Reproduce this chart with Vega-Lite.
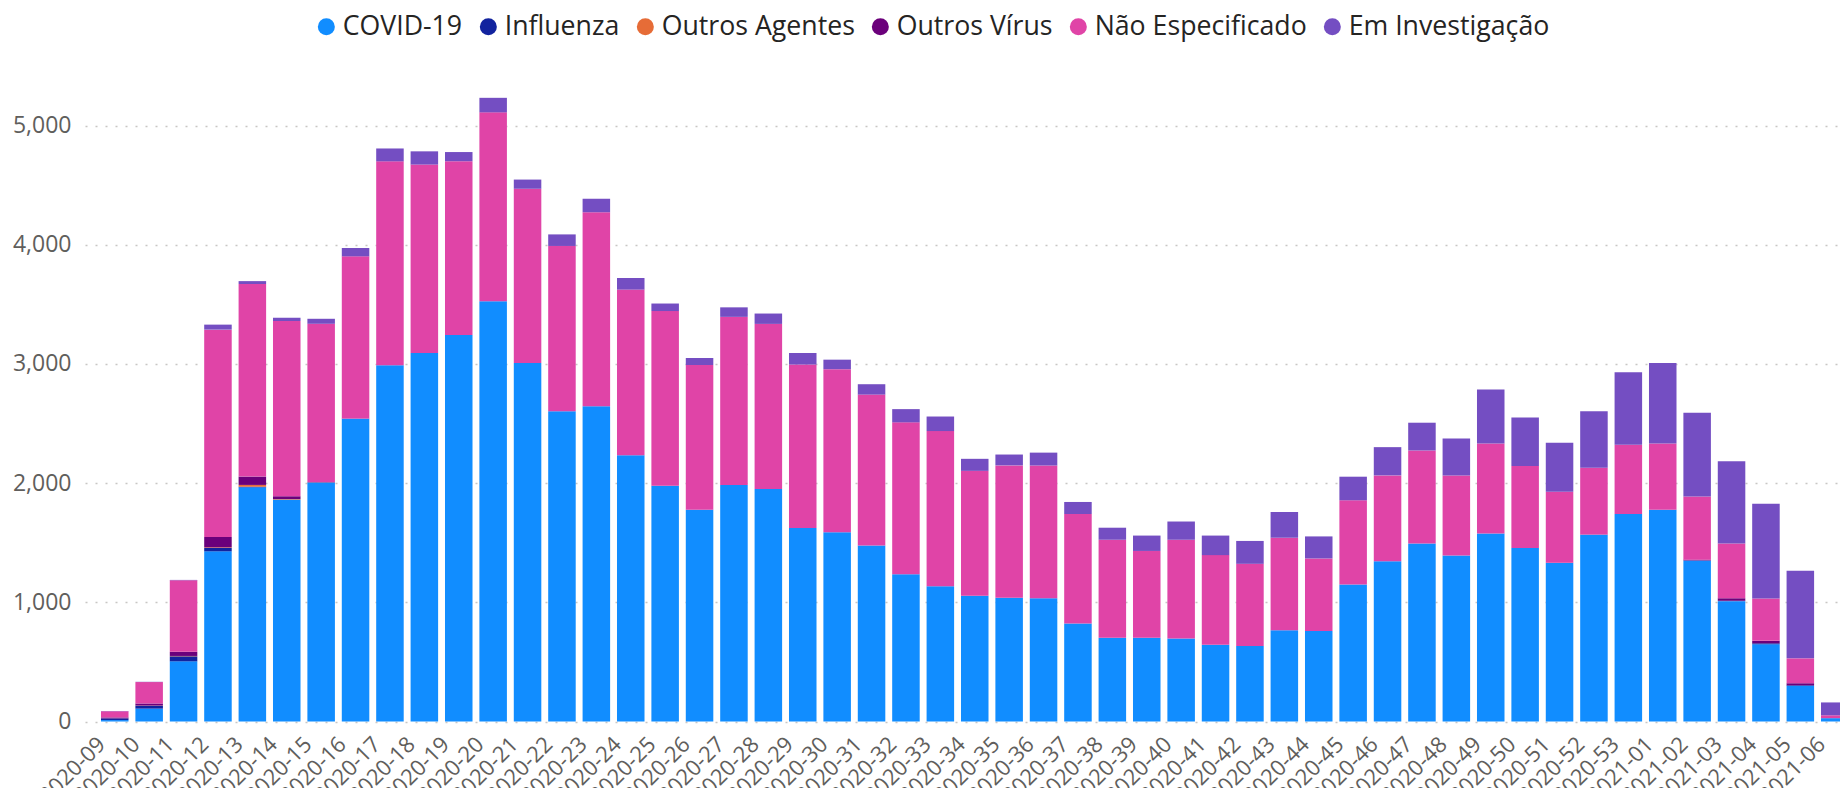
{
  "$schema": "https://vega.github.io/schema/vega-lite/v6.json",
  "autosize": {"type": "none"},
  "padding": {"left": 85, "top": 66, "right": 0, "bottom": 66.5},
  "width": 1779.5,
  "height": 655.5,
  "background": "white",
  "config": {
    "view": {"stroke": null},
    "font": "Segoe UI, Open Sans, sans-serif"
  },
  "datasets": {
    "ordem": [
      {"cat": "COVID-19", "k": 1},
      {"cat": "Influenza", "k": 2},
      {"cat": "Outros Agentes", "k": 3},
      {"cat": "Outros Vírus", "k": 4},
      {"cat": "Não Especificado", "k": 5},
      {"cat": "Em Investigação", "k": 6}
    ]
  },
  "data": {
    "values": [
      {"w": "2020-09", "COVID-19": 12, "Influenza": 14, "Outros Agentes": 0, "Outros Vírus": 8, "Não Especificado": 52, "Em Investigação": 2},
      {"w": "2020-10", "COVID-19": 108, "Influenza": 24, "Outros Agentes": 2, "Outros Vírus": 17, "Não Especificado": 180, "Em Investigação": 2},
      {"w": "2020-11", "COVID-19": 505, "Influenza": 42, "Outros Agentes": 3, "Outros Vírus": 35, "Não Especificado": 600, "Em Investigação": 3},
      {"w": "2020-12", "COVID-19": 1428, "Influenza": 28, "Outros Agentes": 5, "Outros Vírus": 87, "Não Especificado": 1740, "Em Investigação": 42},
      {"w": "2020-13", "COVID-19": 1965, "Influenza": 5, "Outros Agentes": 15, "Outros Vírus": 70, "Não Especificado": 1616, "Em Investigação": 24},
      {"w": "2020-14", "COVID-19": 1860, "Influenza": 3, "Outros Agentes": 3, "Outros Vírus": 24, "Não Especificado": 1470, "Em Investigação": 28},
      {"w": "2020-15", "COVID-19": 2005, "Influenza": 0, "Outros Agentes": 1, "Outros Vírus": 3, "Não Especificado": 1328, "Em Investigação": 42},
      {"w": "2020-16", "COVID-19": 2540, "Influenza": 0, "Outros Agentes": 0, "Outros Vírus": 2, "Não Especificado": 1361, "Em Investigação": 70},
      {"w": "2020-17", "COVID-19": 2990, "Influenza": 0, "Outros Agentes": 0, "Outros Vírus": 0, "Não Especificado": 1710, "Em Investigação": 108},
      {"w": "2020-18", "COVID-19": 3092, "Influenza": 0, "Outros Agentes": 0, "Outros Vírus": 0, "Não Especificado": 1581, "Em Investigação": 111},
      {"w": "2020-19", "COVID-19": 3242, "Influenza": 0, "Outros Agentes": 0, "Outros Vírus": 0, "Não Especificado": 1459, "Em Investigação": 77},
      {"w": "2020-20", "COVID-19": 3527, "Influenza": 0, "Outros Agentes": 0, "Outros Vírus": 0, "Não Especificado": 1584, "Em Investigação": 122},
      {"w": "2020-21", "COVID-19": 3008, "Influenza": 0, "Outros Agentes": 0, "Outros Vírus": 0, "Não Especificado": 1462, "Em Investigação": 77},
      {"w": "2020-22", "COVID-19": 2604, "Influenza": 0, "Outros Agentes": 0, "Outros Vírus": 0, "Não Especificado": 1386, "Em Investigação": 97},
      {"w": "2020-23", "COVID-19": 2646, "Influenza": 0, "Outros Agentes": 0, "Outros Vírus": 0, "Não Especificado": 1626, "Em Investigação": 115},
      {"w": "2020-24", "COVID-19": 2235, "Influenza": 0, "Outros Agentes": 0, "Outros Vírus": 0, "Não Especificado": 1389, "Em Investigação": 97},
      {"w": "2020-25", "COVID-19": 1978, "Influenza": 0, "Outros Agentes": 0, "Outros Vírus": 0, "Não Especificado": 1466, "Em Investigação": 63},
      {"w": "2020-26", "COVID-19": 1776, "Influenza": 0, "Outros Agentes": 0, "Outros Vírus": 0, "Não Especificado": 1215, "Em Investigação": 59},
      {"w": "2020-27", "COVID-19": 1985, "Influenza": 0, "Outros Agentes": 0, "Outros Vírus": 0, "Não Especificado": 1410, "Em Investigação": 80},
      {"w": "2020-28", "COVID-19": 1950, "Influenza": 0, "Outros Agentes": 0, "Outros Vírus": 0, "Não Especificado": 1386, "Em Investigação": 87},
      {"w": "2020-29", "COVID-19": 1623, "Influenza": 0, "Outros Agentes": 0, "Outros Vírus": 0, "Não Especificado": 1372, "Em Investigação": 97},
      {"w": "2020-30", "COVID-19": 1588, "Influenza": 0, "Outros Agentes": 0, "Outros Vírus": 0, "Não Especificado": 1368, "Em Investigação": 80},
      {"w": "2020-31", "COVID-19": 1476, "Influenza": 0, "Outros Agentes": 0, "Outros Vírus": 0, "Não Especificado": 1267, "Em Investigação": 87},
      {"w": "2020-32", "COVID-19": 1236, "Influenza": 0, "Outros Agentes": 0, "Outros Vírus": 0, "Não Especificado": 1274, "Em Investigação": 111},
      {"w": "2020-33", "COVID-19": 1135, "Influenza": 0, "Outros Agentes": 0, "Outros Vírus": 0, "Não Especificado": 1302, "Em Investigação": 122},
      {"w": "2020-34", "COVID-19": 1055, "Influenza": 0, "Outros Agentes": 0, "Outros Vírus": 0, "Não Especificado": 1048, "Em Investigação": 101},
      {"w": "2020-35", "COVID-19": 1038, "Influenza": 0, "Outros Agentes": 0, "Outros Vírus": 0, "Não Especificado": 1111, "Em Investigação": 91},
      {"w": "2020-36", "COVID-19": 1034, "Influenza": 0, "Outros Agentes": 0, "Outros Vírus": 0, "Não Especificado": 1114, "Em Investigação": 108},
      {"w": "2020-37", "COVID-19": 822, "Influenza": 0, "Outros Agentes": 0, "Outros Vírus": 0, "Não Especificado": 919, "Em Investigação": 101},
      {"w": "2020-38", "COVID-19": 703, "Influenza": 0, "Outros Agentes": 0, "Outros Vírus": 0, "Não Especificado": 822, "Em Investigação": 101},
      {"w": "2020-39", "COVID-19": 703, "Influenza": 0, "Outros Agentes": 0, "Outros Vírus": 0, "Não Especificado": 728, "Em Investigação": 129},
      {"w": "2020-40", "COVID-19": 696, "Influenza": 0, "Outros Agentes": 0, "Outros Vírus": 0, "Não Especificado": 829, "Em Investigação": 153},
      {"w": "2020-41", "COVID-19": 644, "Influenza": 0, "Outros Agentes": 0, "Outros Vírus": 0, "Não Especificado": 752, "Em Investigação": 164},
      {"w": "2020-42", "COVID-19": 634, "Influenza": 0, "Outros Agentes": 0, "Outros Vírus": 0, "Não Especificado": 689, "Em Investigação": 192},
      {"w": "2020-43", "COVID-19": 766, "Influenza": 0, "Outros Agentes": 0, "Outros Vírus": 0, "Não Especificado": 776, "Em Investigação": 216},
      {"w": "2020-44", "COVID-19": 759, "Influenza": 0, "Outros Agentes": 0, "Outros Vírus": 0, "Não Especificado": 609, "Em Investigação": 185},
      {"w": "2020-45", "COVID-19": 1149, "Influenza": 0, "Outros Agentes": 0, "Outros Vírus": 0, "Não Especificado": 707, "Em Investigação": 198},
      {"w": "2020-46", "COVID-19": 1344, "Influenza": 0, "Outros Agentes": 0, "Outros Vírus": 0, "Não Especificado": 721, "Em Investigação": 237},
      {"w": "2020-47", "COVID-19": 1494, "Influenza": 0, "Outros Agentes": 0, "Outros Vírus": 0, "Não Especificado": 780, "Em Investigação": 233},
      {"w": "2020-48", "COVID-19": 1393, "Influenza": 0, "Outros Agentes": 0, "Outros Vírus": 0, "Não Especificado": 672, "Em Investigação": 310},
      {"w": "2020-49", "COVID-19": 1577, "Influenza": 0, "Outros Agentes": 0, "Outros Vírus": 0, "Não Especificado": 756, "Em Investigação": 453},
      {"w": "2020-50", "COVID-19": 1455, "Influenza": 0, "Outros Agentes": 0, "Outros Vírus": 0, "Não Especificado": 689, "Em Investigação": 407},
      {"w": "2020-51", "COVID-19": 1330, "Influenza": 0, "Outros Agentes": 0, "Outros Vírus": 2, "Não Especificado": 595, "Em Investigação": 411},
      {"w": "2020-52", "COVID-19": 1567, "Influenza": 0, "Outros Agentes": 0, "Outros Vírus": 2, "Não Especificado": 561, "Em Investigação": 474},
      {"w": "2020-53", "COVID-19": 1741, "Influenza": 0, "Outros Agentes": 0, "Outros Vírus": 0, "Não Especificado": 581, "Em Investigação": 609},
      {"w": "2021-01", "COVID-19": 1776, "Influenza": 0, "Outros Agentes": 0, "Outros Vírus": 0, "Não Especificado": 557, "Em Investigação": 675},
      {"w": "2021-02", "COVID-19": 1351, "Influenza": 0, "Outros Agentes": 0, "Outros Vírus": 7, "Não Especificado": 529, "Em Investigação": 703},
      {"w": "2021-03", "COVID-19": 1010, "Influenza": 3, "Outros Agentes": 0, "Outros Vírus": 21, "Não Especificado": 460, "Em Investigação": 689},
      {"w": "2021-04", "COVID-19": 648, "Influenza": 8, "Outros Agentes": 0, "Outros Vírus": 21, "Não Especificado": 355, "Em Investigação": 794},
      {"w": "2021-05", "COVID-19": 299, "Influenza": 5, "Outros Agentes": 0, "Outros Vírus": 17, "Não Especificado": 209, "Em Investigação": 735},
      {"w": "2021-06", "COVID-19": 28, "Influenza": 0, "Outros Agentes": 0, "Outros Vírus": 0, "Não Especificado": 24, "Em Investigação": 108}
    ]
  },
  "transform": [
    {"fold": ["COVID-19", "Influenza", "Outros Agentes", "Outros Vírus", "Não Especificado", "Em Investigação"], "as": ["cat", "n"]},
    {"lookup": "cat", "from": {"data": {"name": "ordem"}, "key": "cat", "fields": ["k"]}}
  ],
  "mark": {"type": "bar"},
  "encoding": {
    "x": {
      "field": "w",
      "type": "ordinal",
      "sort": null,
      "scale": {"paddingInner": 0.2, "paddingOuter": 0.465},
      "axis": {
        "title": null,
        "labelAngle": -45,
        "labelAlign": "right",
        "labelBaseline": "middle",
        "labelFontSize": 22,
        "labelColor": "#605E5C",
        "labelOverlap": false,
        "labelBound": false,
        "ticks": false,
        "domain": false,
        "labelPadding": 19,
        "labelOffset": -13
      }
    },
    "y": {
      "field": "n",
      "type": "quantitative",
      "stack": "zero",
      "scale": {"domain": [0, 5500], "nice": false},
      "axis": {
        "title": null,
        "values": [0, 1000, 2000, 3000, 4000, 5000],
        "format": ",d",
        "labelFontSize": 23,
        "labelColor": "#605E5C",
        "labelPadding": 14,
        "ticks": false,
        "domain": false,
        "grid": true,
        "gridColor": "#C8C6C4",
        "gridDash": [2, 8],
        "gridWidth": 1.5
      }
    },
    "order": {"field": "k", "type": "quantitative", "sort": "ascending"},
    "color": {
      "field": "cat",
      "type": "nominal",
      "scale": {
        "domain": ["COVID-19", "Influenza", "Outros Agentes", "Outros Vírus", "Não Especificado", "Em Investigação"],
        "range": ["#118DFF", "#12239E", "#E66C37", "#6B007B", "#E044A7", "#744EC2"]
      },
      "legend": {
        "title": null,
        "orient": "none",
        "direction": "horizontal",
        "legendX": 228,
        "legendY": -53,
        "symbolType": "circle",
        "symbolSize": 289,
        "symbolStrokeWidth": 0,
        "labelFontSize": 26.7,
        "labelColor": "#252423",
        "labelOffset": 3,
        "columnPadding": 12,
        "labelLimit": 400
      }
    }
  }
}
